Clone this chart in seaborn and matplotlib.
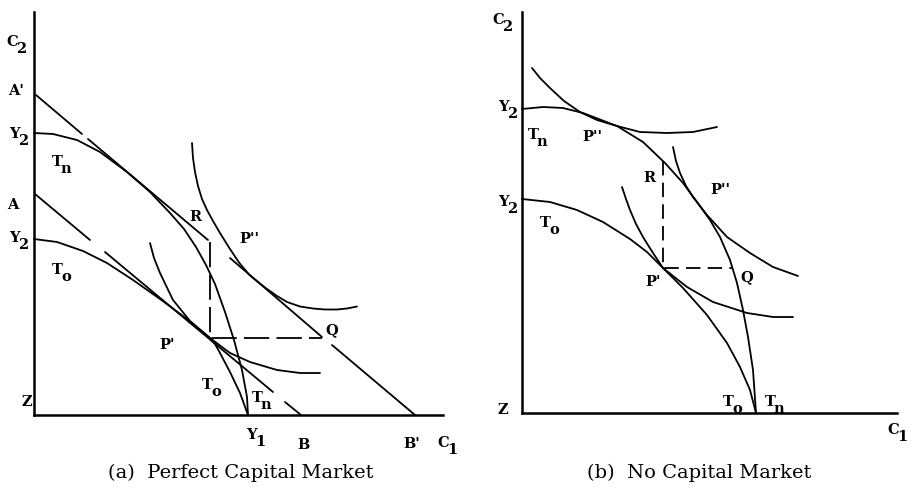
import matplotlib
matplotlib.use('Agg')
import matplotlib.pyplot as plt
import seaborn as sns
import pandas as pd

sns.set_style('white')
plt.rcParams['font.family'] = ['DejaVu Serif']
plt.rcParams['text.color'] = 'black'

# ---------------- (a) Perfect Capital Market ----------------
# transformation curves (C1, C2)
a_tn_x = [0, 19, 43, 66, 93, 116, 136, 150, 162, 172, 181, 191, 200, 208, 213, 214]
a_tn_y = [282, 281, 275, 263, 243, 223, 202, 186, 168, 150, 131, 103, 75, 45, 18, 0]
a_to_x = [0, 23, 49, 73, 99, 126, 151, 176, 181, 186, 196, 206, 214]
a_to_y = [176, 173, 164, 152, 135, 116, 97.5, 77, 71, 62, 43, 22, 0]

# indifference curves
a_ic1_x = [116, 120, 126, 139, 156, 176, 196, 216, 243, 266, 286]
a_ic1_y = [172, 157, 142, 115, 94, 77, 62, 53, 45, 42, 42]
a_ic2_x = [158, 159, 161, 164, 168, 173, 179, 186, 195, 205, 215, 224, 233, 243,
           253, 266, 279, 291, 303, 313, 323]
a_ic2_y = [272, 257, 243, 229, 216, 205, 194, 182, 167.5, 152.5, 140.5, 133, 126, 119,
           113, 108.5, 106.5, 105.5, 105.5, 106.5, 108.5]

# market lines A'B' and AB, drawn piece by piece (gaps as in the scan)
a_line_hi = [([2, 48], [320, 281]), ([54, 174], [276, 175]),
             ([196, 288], [157, 78]), ([298, 381], [70, 0])]
a_line_lo = [([1, 56], [221, 175]), ([71, 239], [163, 23]), ([251, 267], [13, 0])]

# R -> P' -> Q
a_rpq_x = [176, 176, 288]
a_rpq_y = [173, 77, 77]

# ---------------- (b) No Capital Market ----------------
b_tn_x = [0, 21, 41, 61, 95, 121, 143, 161, 175, 188, 198, 208, 215, 221, 226, 231, 234]
b_tn_y = [304, 306, 305, 300, 287, 271, 250, 230, 211, 193, 176, 153, 130, 103, 76, 43, 0]
b_to_x = [0, 28, 55, 81, 108, 125, 141, 161, 185, 205, 218, 228, 234]
b_to_y = [214, 211, 203, 191, 174, 161, 145, 125, 98, 70, 46, 23, 0]

b_ic_top_x = [10, 18, 28, 42, 58, 75, 95, 118, 145, 171, 195]
b_ic_top_y = [345, 335, 325, 312, 301, 293, 287, 281, 280, 281, 286]
b_ic_mid_x = [151, 154, 158, 164, 171, 185, 205, 228, 251, 276]
b_ic_mid_y = [266, 252, 240, 227, 216, 198, 176, 160, 146, 137]
b_ic_low_x = [100, 104, 108, 114, 121, 131, 141, 165, 191, 225, 251, 271]
b_ic_low_y = [226, 214, 203, 189, 176, 160, 145, 126, 111, 100, 96, 96]

b_rpq_x = [141, 141, 210]
b_rpq_y = [252, 145, 145]


def draw(ax, xs, ys, lw=1.3, ls='-'):
    df = pd.DataFrame({'x': xs, 'y': ys})
    sns.lineplot(data=df, x='x', y='y', ax=ax, sort=False, estimator=None,
                 color='black', linewidth=lw, linestyle=ls, clip_on=False,
                 solid_joinstyle='round', solid_capstyle='round')


def label(ax, x, y, base, sub=None, size=10.5):
    ax.text(x, y, base, ha='center', va='center', fontsize=size,
            fontweight='bold', clip_on=False)
    if sub:
        ax.annotate(sub, xy=(x, y), xytext=(6.5, -5), textcoords='offset points',
                    ha='center', va='center', fontsize=size, fontweight='bold',
                    annotation_clip=False)


def frame(ax, w, h):
    ax.set_xlim(0, w)
    ax.set_ylim(0, h)
    ax.set_xticks([])
    ax.set_yticks([])
    ax.set_xlabel('')
    ax.set_ylabel('')
    sns.despine(ax=ax)
    for s in ['left', 'bottom']:
        ax.spines[s].set_linewidth(1.8)
        ax.spines[s].set_color('black')


fig = plt.figure(figsize=(9.11, 4.88), dpi=100)

# panel (a)
ax1 = fig.add_axes([34 / 911, 73 / 488, 409 / 911, 403 / 488])
draw(ax1, a_tn_x, a_tn_y)
draw(ax1, a_to_x, a_to_y)
draw(ax1, a_ic1_x, a_ic1_y)
draw(ax1, a_ic2_x, a_ic2_y)
for xs, ys in a_line_hi + a_line_lo:
    draw(ax1, xs, ys)
draw(ax1, a_rpq_x, a_rpq_y, ls=(0, (14, 4)))
frame(ax1, 409, 403)

label(ax1, -22, 373, 'C', '2')
label(ax1, -18, 324, "A'")
label(ax1, -20, 281, 'Y', '2')
label(ax1, 23, 253, 'T', 'n')
label(ax1, -21, 210, 'A')
label(ax1, -20, 177, 'Y', '2')
label(ax1, 23, 145, 'T', 'o')
label(ax1, 161, 198, 'R')
label(ax1, 215, 176, "P''")
label(ax1, 298, 85, 'Q')
label(ax1, 133, 70, "P'")
label(ax1, 173, 30, 'T', 'o')
label(ax1, 223, 17, 'T', 'n')
label(ax1, -7, 13, 'Z')
label(ax1, 217, -20, 'Y', '1')
label(ax1, 269, -30, 'B')
label(ax1, 378, -29, "B'")
label(ax1, 409, -28, 'C', '1')

# panel (b)
ax2 = fig.add_axes([522 / 911, 75 / 488, 375 / 911, 401 / 488])
draw(ax2, b_tn_x, b_tn_y)
draw(ax2, b_to_x, b_to_y)
draw(ax2, b_ic_top_x, b_ic_top_y)
draw(ax2, b_ic_mid_x, b_ic_mid_y)
draw(ax2, b_ic_low_x, b_ic_low_y)
draw(ax2, b_rpq_x, b_rpq_y, ls=(0, (8, 4)))
frame(ax2, 375, 401)

label(ax2, -24, 393, 'C', '2')
label(ax2, -19, 306, 'Y', '2')
label(ax2, 11, 278, 'T', 'n')
label(ax2, 70, 276, "P''")
label(ax2, 127, 235, 'R')
label(ax2, 198, 223, "P''")
label(ax2, -19, 211, 'Y', '2')
label(ax2, 23, 190, 'T', 'o')
label(ax2, 225, 136, 'Q')
label(ax2, 131, 131, "P'")
label(ax2, 206, 11, 'T', 'o')
label(ax2, 248, 11, 'T', 'n')
label(ax2, -19, 3, 'Z')
label(ax2, 371, -17, 'C', '1')

fig.text(241 / 911, 1 - 473 / 488, '(a)  Perfect Capital Market', ha='center', va='center', fontsize=14)
fig.text(699 / 911, 1 - 473 / 488, '(b)  No Capital Market', ha='center', va='center', fontsize=14)

fig.savefig('out.png', dpi=100)
